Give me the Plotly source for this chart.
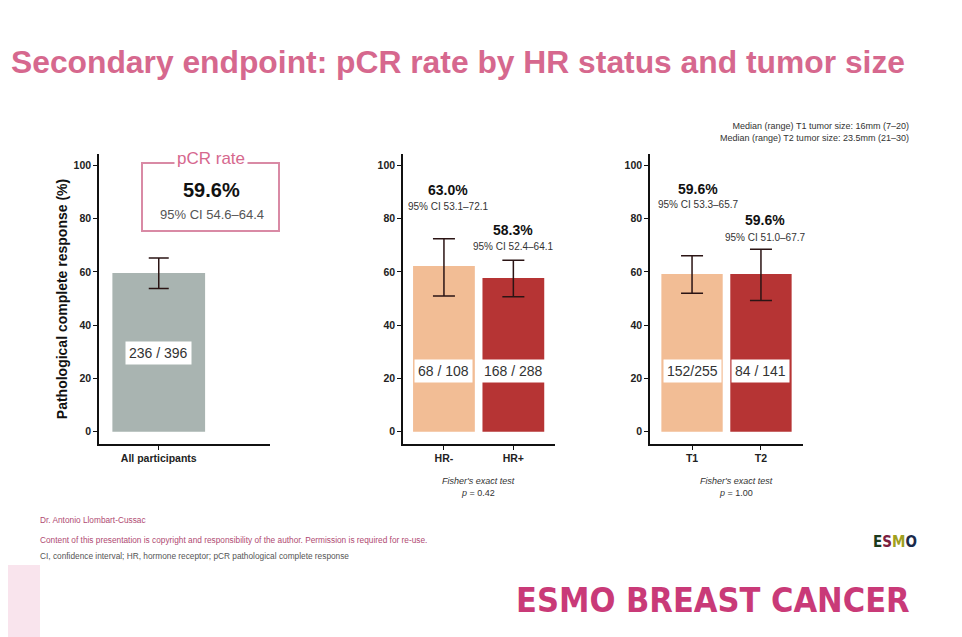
import plotly.graph_objects as go

# ---- data ----
all_cats = ["All participants"]
all_rate = [59.6]
all_ci_lo = [53.8]
all_ci_hi = [65.2]
all_counts = ["236 / 396"]

hr_cats = ["HR-", "HR+"]
hr_rate = [62.2, 57.7]
hr_ci_lo = [51.0, 50.7]
hr_ci_hi = [72.5, 64.4]
hr_counts = ["68 / 108", "168 / 288"]
hr_pct_text = ["63.0%", "58.3%"]
hr_ci_text = ["95% CI 53.1\u201372.1", "95% CI 52.4\u201364.1"]

t_cats = ["T1", "T2"]
t_rate = [59.2, 59.2]
t_ci_lo = [52.0, 49.3]
t_ci_hi = [66.1, 68.5]
t_counts = ["152/255", "84 / 141"]
t_pct_text = ["59.6%", "59.6%"]
t_ci_text = ["95% CI 53.3\u201365.7", "95% CI 51.0\u201367.7"]

y_ticks = [0, 20, 40, 60, 80, 100]

W, H = 962, 637
OFF = 8  # page body margin pushes the plot 8px right/down
GREY = "#a9b4b1"
PEACH = "#f2bd95"
RED = "#b63434"
PINK = "#d6688e"
FONT = "Liberation Sans, Arial, sans-serif"
NARROW = "Liberation Sans Narrow, DejaVu Sans Condensed, Liberation Sans, sans-serif"


def px(x):
    return (x - OFF) / W


def py(y):
    return 1 - (y - OFF) / H


fig = go.Figure()


def add_panel(n, cats, rate, lo, hi, colors, width, capw):
    fig.add_trace(go.Bar(
        x=cats, y=rate, width=width,
        marker=dict(color=colors, line=dict(width=0)),
        error_y=dict(type="data", symmetric=False,
                     array=[h - r for h, r in zip(hi, rate)],
                     arrayminus=[r - l for r, l in zip(rate, lo)],
                     color="#2b1414", thickness=1.5, width=capw),
        xaxis="x" if n == 1 else f"x{n}", yaxis="y" if n == 1 else f"y{n}",
        showlegend=False, hoverinfo="skip"))


add_panel(1, all_cats, all_rate, all_ci_lo, all_ci_hi, [GREY], 0.9, 10)
add_panel(2, hr_cats, hr_rate, hr_ci_lo, hr_ci_hi, [PEACH, RED], 0.89, 11)
add_panel(3, t_cats, t_rate, t_ci_lo, t_ci_hi, [PEACH, RED], 0.89, 11)

ydom = [py(444), py(154)]
axis_common = dict(showline=True, linecolor="#111", linewidth=1.5, ticks="outside",
                   ticklen=4, tickcolor="#111", showgrid=False, zeroline=False,
                   tickfont=dict(family=FONT, size=10.5, color="#222", weight="bold"))

fig.update_layout(
    width=W, height=H, margin=dict(l=0, r=0, t=0, b=0),
    paper_bgcolor="white", plot_bgcolor="white",
    font=dict(family=FONT),
    xaxis=dict(domain=[px(99), px(270)], range=[-0.58, 1.08], anchor="y",
               **axis_common),
    yaxis=dict(domain=ydom, range=[-4.6, 104.3], tickvals=y_ticks, anchor="x",
               title=dict(text="Pathological complete response (%)", standoff=3,
                          font=dict(family=FONT, size=14, color="#111", weight="bold")),
               **axis_common),
    xaxis2=dict(domain=[px(403), px(555)], range=[-0.59, 1.6], anchor="y2",
                **axis_common),
    yaxis2=dict(domain=ydom, range=[-4.6, 104.3], tickvals=y_ticks, anchor="x2",
                **axis_common),
    xaxis3=dict(domain=[px(650), px(803)], range=[-0.61, 1.61], anchor="y3",
                **axis_common),
    yaxis3=dict(domain=ydom, range=[-4.6, 104.3], tickvals=y_ticks, anchor="x3",
                **axis_common),
)

ann = []


def note(x, y, text, size, color, xref="paper", yref="paper", xanchor="center", **kw):
    d = dict(x=x, y=y, xref=xref, yref=yref, text=text, showarrow=False,
             xanchor=xanchor, yanchor="middle",
             font=dict(family=kw.pop("family", FONT), size=size, color=color,
                       weight=kw.pop("weight", "normal")))
    d.update(kw)
    ann.append(d)


# count labels inside bars
for xr, yr, cats, counts, yv in [("x", "y", all_cats, all_counts, 29.5),
                                 ("x2", "y2", hr_cats, hr_counts, 23),
                                 ("x3", "y3", t_cats, t_counts, 23)]:
    for c, t in zip(cats, counts):
        note(c, yv, t, 14, "#333", xref=xr, yref=yr, bgcolor="white", borderpad=3)

# percent + CI above bars (y in page pixels, small x nudges)
for xr, cats, pcts, cis, ypos, shifts in [
        ("x2", hr_cats, hr_pct_text, hr_ci_text, [[190, 206], [230, 246]], [4, 0]),
        ("x3", t_cats, t_pct_text, t_ci_text, [[189, 204], [220, 237]], [6, 4])]:
    for c, p, ci, (yp, yc), sh in zip(cats, pcts, cis, ypos, shifts):
        note(c, py(yp), p, 14, "#111", xref=xr, weight="bold", xshift=sh)
        note(c, py(yc), ci, 10, "#333", xref=xr, xshift=sh)

# pCR rate box in panel 1
fig.add_shape(type="rect", xref="paper", yref="paper",
              x0=px(142), x1=px(279), y0=py(231), y1=py(163),
              line=dict(color="#d98aa5", width=2), fillcolor="rgba(0,0,0,0)")
note(px(211), py(158), "pCR rate", 17, PINK, bgcolor="white", borderpad=2)
note(px(211), py(190), f"{all_rate[0]}%", 20, "#111", weight="bold")
note(px(212), py(214), "95% CI 54.6\u201364.4", 13, "#555")

# Fisher's test notes
for xc, pv in [(478, "0.42"), (736, "1.00")]:
    note(px(xc), py(481), "<i>Fisher's exact test</i>", 9, "#333")
    note(px(xc), py(493), f"<i>p</i> = {pv}", 9, "#333")

# tumor size note
note(px(911), py(132),
     "Median (range) T1 tumor size: 16mm (7\u201320)<br>Median (range) T2 tumor size: 23.5mm (21\u201330)",
     9, "#333", xanchor="right", align="right")

# title
note(px(9), py(62), "Secondary endpoint: pCR rate by HR status and tumor size",
     31.8, PINK, xanchor="left", weight="bold")

# footer
note(px(38), py(520), "Dr. Antonio Llombart-Cussac", 8.3, "#b04a72", xanchor="left")
note(px(38), py(540),
     "Content of this presentation is copyright and responsibility of the author. Permission is required for re-use.",
     8.3, "#b04a72", xanchor="left")
note(px(38), py(556),
     "CI, confidence interval; HR, hormone receptor; pCR pathological complete response",
     8.3, "#555", xanchor="left")
note(px(912), py(600), "ESMO BREAST CANCER", 34, "#c93a78", xanchor="right",
     weight="bold", family=NARROW)
note(px(895), py(542),
     "<span style='color:#1c3a1c'>E</span><span style='color:#7a2040'>S</span>"
     "<span style='color:#a0a020'>M</span><span style='color:#1a2a4a'>O</span>",
     15, "#1c3a1c", weight="bold", family=NARROW)

fig.add_shape(type="path", xref="paper", yref="paper",
              path=f"M {px(0)} {py(565)} L {px(40)} {py(565)} L {px(40)} {py(645)} L {px(0)} {py(645)} Z",
              line=dict(width=0), fillcolor="rgba(235,165,195,0.3)", layer="below")

fig.update_layout(annotations=ann)
fig.write_html("out.html")
